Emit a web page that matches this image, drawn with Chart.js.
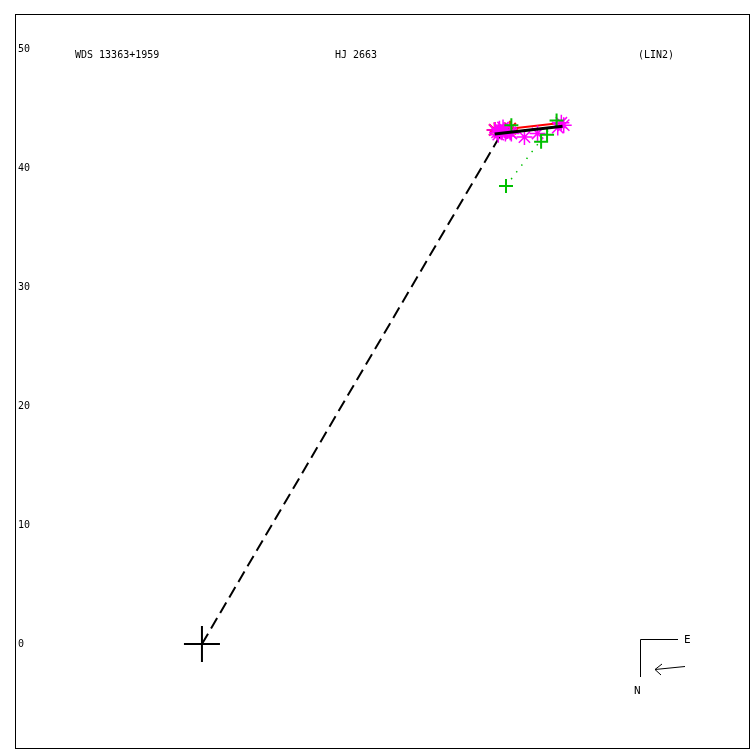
<!DOCTYPE html>
<html>
<head>
<meta charset="utf-8">
<script src="https://cdn.jsdelivr.net/npm/chart.js@4/dist/chart.umd.min.js"></script>
<style>
  body { margin: 0; background: #fff; }
  canvas { display: block; }
</style>
</head>
<body>
<canvas id="orbitPlot" width="750" height="750"></canvas>
<script>
// chart values
const headerTexts = ['WDS 13363+1959', 'HJ 2663', '(LIN2)'];
const yTicks = [0, 10, 20, 30, 40, 50];

const primaryX = [0];
const primaryY = [0];

// speckle measures (magenta)
const speckleX = [24.6, 24.8, 25.0, 25.2, 25.4, 25.5, 25.7, 25.9, 24.9, 25.3, 26.0, 27.1, 28.2, 29.9, 30.4, 30.2];
const speckleY = [43.2, 43.0, 43.3, 43.0, 43.2, 42.9, 43.1, 43.0, 42.8, 43.4, 42.9, 42.6, 42.9, 43.4, 43.6, 43.8];

// other measures (red, mostly hidden)
const redX = [24.6, 25.9];
const redY = [43.2, 43.3];

// micrometer measures (green)
const visualX = [29.8, 29.0, 28.5, 25.55, 26.0];
const visualY = [44.0, 42.8, 42.2, 38.49, 43.6];

// O-C line of the discrepant measure
const ocX = [25.55, 29.2];
const ocY = [38.49, 43.3];

// linear fit
const fitX = [24.6, 30.3];
const fitY = [42.86, 43.5];
const fitRedX = [24.2, 30.3];
const fitRedY = [43.1, 43.8];

// primary to first measure
const radiusX = [0, 25.2];
const radiusY = [0, 42.95];

const pts = (xs, ys) => xs.map((x, i) => ({ x: x, y: ys[i] }));

const framePlugin = {
    id: 'frame',
    afterDraw(chart) {
        const c = chart.ctx;
        const a = chart.chartArea;
        c.save();
        c.strokeStyle = '#000';
        c.lineWidth = 1;
        c.strokeRect(a.left + 0.5, a.top + 0.5, a.right - a.left, a.bottom - a.top);

        c.fillStyle = '#000';
        c.font = '10px "DejaVu Sans Mono"';
        c.textBaseline = 'alphabetic';
        c.fillText(headerTexts[0], 75, 58);
        c.fillText(headerTexts[1], 335, 58);
        c.fillText(headerTexts[2], 638, 58);

        // compass
        c.beginPath();
        c.moveTo(678, 639.5);
        c.lineTo(640.5, 639.5);
        c.lineTo(640.5, 677);
        c.moveTo(685, 666.5);
        c.lineTo(655, 669.5);
        c.moveTo(662, 664);
        c.lineTo(655, 669.5);
        c.lineTo(661, 675);
        c.stroke();
        c.font = '11px "DejaVu Sans Mono"';
        c.fillText('E', 684, 643);
        c.fillText('N', 634, 694);
        c.restore();
    }
};

const ctx = document.getElementById('orbitPlot').getContext('2d');
let orbitChart = new Chart(ctx, {
    type: 'scatter',
    data: {
        datasets: [
            {
                label: 'fit',
                data: pts(fitX, fitY),
                showLine: true,
                borderColor: '#000',
                borderWidth: 3,
                pointRadius: 0
            },
            {
                label: 'visual',
                data: pts(visualX, visualY),
                pointStyle: 'cross',
                pointRadius: 7,
                borderColor: '#00c000',
                borderWidth: 2
            },
            {
                label: 'speckle',
                data: pts(speckleX, speckleY),
                pointStyle: 'star',
                pointRadius: 8,
                borderColor: '#ff00ff',
                borderWidth: 1.5
            },
            {
                label: 'fitRed',
                data: pts(fitRedX, fitRedY),
                showLine: true,
                borderColor: '#ff0000',
                borderWidth: 2,
                pointRadius: 0
            },
            {
                label: 'other',
                data: pts(redX, redY),
                pointStyle: 'star',
                pointRadius: 8,
                borderColor: '#ff0000',
                borderWidth: 2
            },
            {
                label: 'oc',
                data: pts(ocX, ocY),
                showLine: true,
                borderColor: '#00c000',
                borderWidth: 1.5,
                borderDash: [1.5, 7],
                pointRadius: 0
            },
            {
                label: 'radius',
                data: pts(radiusX, radiusY),
                showLine: true,
                borderColor: '#000',
                borderWidth: 2,
                borderDash: [12, 6],
                pointRadius: 0
            },
            {
                label: 'primary',
                data: pts(primaryX, primaryY),
                pointStyle: 'cross',
                pointRadius: 18,
                borderColor: '#000',
                borderWidth: 2
            }
        ]
    },
    options: {
        responsive: false,
        animation: false,
        devicePixelRatio: 1,
        layout: { autoPadding: false, padding: { left: 15, top: 14, right: 1, bottom: 2 } },
        plugins: {
            legend: { display: false },
            tooltip: { enabled: false }
        },
        scales: {
            x: {
                type: 'linear',
                display: false,
                min: -15.71,
                max: 45.97
            },
            y: {
                type: 'linear',
                min: -8.74,
                max: 52.94,
                grid: { display: false },
                border: { display: false },
                afterFit(axis) {
                    axis.width = 0;
                    axis.paddingTop = 0;
                    axis.paddingBottom = 0;
                },
                afterBuildTicks(axis) { axis.ticks = yTicks.map(v => ({ value: v })); },
                ticks: {
                    mirror: true,
                    padding: 3,
                    color: '#000',
                    font: { family: 'DejaVu Sans Mono', size: 10 },
                    callback: v => String(v)
                }
            }
        }
    },
    plugins: [framePlugin]
});
</script>
</body>
</html>
